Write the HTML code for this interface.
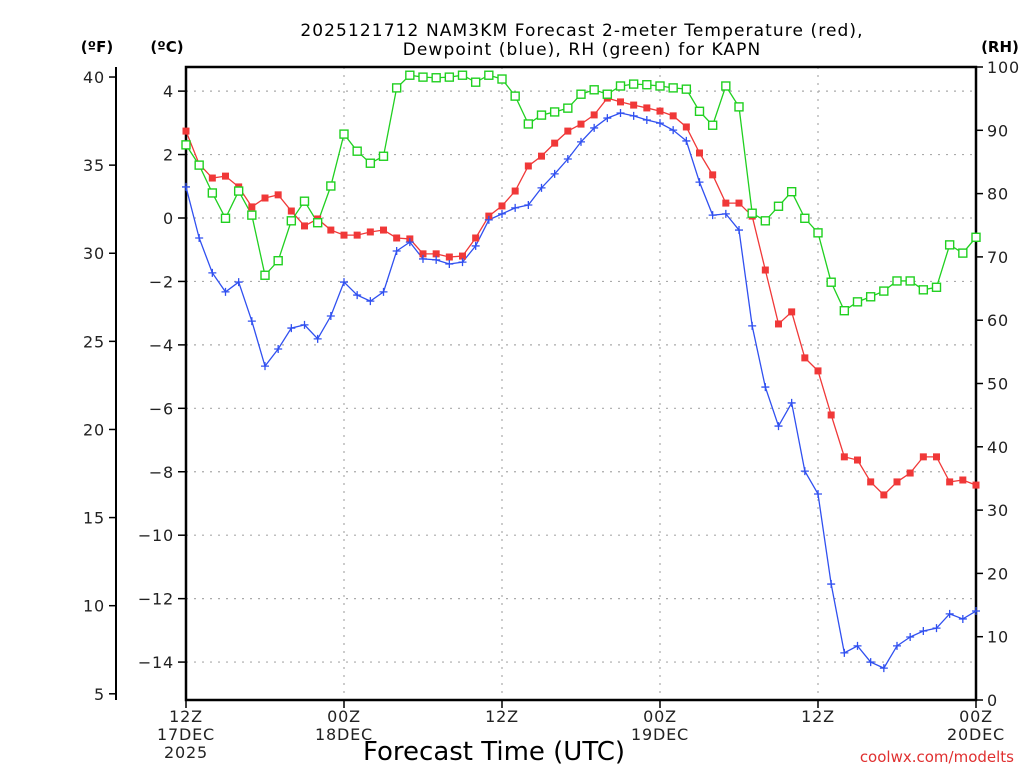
<!DOCTYPE html>
<html><head><meta charset="utf-8"><style>
html,body{margin:0;padding:0;background:#fff;}
svg{display:block;font-family:"DejaVu Sans","Liberation Sans",sans-serif;}
</style></head><body>
<svg id="chart" width="1024" height="768" viewBox="0 0 1024 768" xmlns="http://www.w3.org/2000/svg">
<g id="grid"></g>
<g id="axes"></g>
<g id="series"></g>
<text x="582" y="36" font-size="17" letter-spacing="1.1" text-anchor="middle" fill="#000">2025121712 NAM3KM Forecast 2-meter Temperature (red),</text>
<text x="582" y="55" font-size="17" letter-spacing="1.1" text-anchor="middle" fill="#000">Dewpoint (blue), RH (green) for KAPN</text>
<text x="97" y="52" font-size="15" font-weight="bold" text-anchor="middle">(ºF)</text>
<text x="167" y="52" font-size="15" font-weight="bold" text-anchor="middle">(ºC)</text>
<text x="1000" y="52" font-size="15" font-weight="bold" text-anchor="middle">(RH)</text>
<text x="494" y="760" font-size="26" text-anchor="middle" fill="#000">Forecast Time (UTC)</text>
<text x="1014" y="762" font-size="15" text-anchor="end" fill="#e03030">coolwx.com/modelts</text>
</svg>
<script>
const tempC=[2.74,1.70,1.26,1.32,0.98,0.35,0.63,0.73,0.22,-0.25,-0.03,-0.38,-0.54,-0.54,-0.44,-0.38,-0.63,-0.66,-1.13,-1.13,-1.23,-1.20,-0.63,0.06,0.38,0.85,1.64,1.95,2.36,2.74,2.96,3.25,3.78,3.66,3.56,3.47,3.37,3.22,2.87,2.05,1.36,0.47,0.47,0.06,-1.64,-3.34,-2.96,-4.41,-4.82,-6.21,-7.53,-7.63,-8.32,-8.73,-8.32,-8.04,-7.53,-7.53,-8.32,-8.26,-8.42];
const dewC=[0.98,-0.63,-1.73,-2.33,-2.02,-3.25,-4.67,-4.13,-3.47,-3.37,-3.81,-3.09,-2.02,-2.43,-2.62,-2.33,-1.04,-0.76,-1.29,-1.32,-1.45,-1.39,-0.88,-0.06,0.13,0.32,0.41,0.95,1.39,1.86,2.40,2.84,3.15,3.31,3.22,3.09,2.99,2.77,2.43,1.13,0.09,0.13,-0.38,-3.40,-5.33,-6.56,-5.83,-7.98,-8.70,-11.54,-13.71,-13.49,-14.0,-14.19,-13.49,-13.21,-13.02,-12.93,-12.48,-12.64,-12.39];
const rh=[87.7,84.5,80.1,76.1,80.4,76.6,67.1,69.4,75.7,78.8,75.4,81.2,89.4,86.7,84.8,85.9,96.7,98.7,98.4,98.3,98.4,98.7,97.6,98.7,98.1,95.4,91.0,92.4,92.9,93.5,95.7,96.4,95.7,97.0,97.3,97.2,97.0,96.7,96.5,93.0,90.8,97.0,93.7,76.9,75.7,78.0,80.3,76.1,73.8,66.0,61.5,62.9,63.7,64.6,66.2,66.2,64.8,65.2,71.9,70.6,73.1];
const celsiusTicks=[4,2,0,-2,-4,-6,-8,-10,-12,-14];
const fahrTicks=[40,35,30,25,20,15,10,5];
const rhTicks=[100,90,80,70,60,50,40,30,20,10,0];
const timeTicks=[0,12,24,36,48,60];
const timeLabels=[["12Z","17DEC","2025"],["00Z","18DEC"],["12Z"],["00Z","19DEC"],["12Z"],["00Z","20DEC"]];

const NS="http://www.w3.org/2000/svg";
const L=186,R=976,T=67,B=700;
const xS=h=>L+(R-L)*h/60;
const yC=c=>218-c*31.72;
const yF=f=>yC((f-32)*5/9);
const yRH=r=>B-(B-T)*r/100;
function mk(tag,attrs,parent){const e=document.createElementNS(NS,tag);for(const k in attrs)e.setAttribute(k,attrs[k]);parent.appendChild(e);return e;}
const grid=document.getElementById('grid'),axes=document.getElementById('axes'),series=document.getElementById('series');

celsiusTicks.forEach(c=>{
  const l=mk('line',{x1:L,x2:R,y1:yC(c),y2:yC(c),stroke:'#aaa','stroke-dasharray':'2,6','stroke-width':1.2},grid);
  
  
  const t=mk('line',{x1:L-8,x2:L,y1:yC(c),y2:yC(c),stroke:'#000','stroke-width':1.5},axes);
  
  
  const tx=mk('text',{x:L-12,y:yC(c)+6,'font-size':16,'letter-spacing':0.8,'text-anchor':'end',fill:'#222'},axes);
  tx.textContent=c<0?'\u2212'+(-c):String(c);
  
  
});
timeTicks.forEach((h,i)=>{
  if(i>0&&i<timeTicks.length-1){
    const g=mk('line',{x1:xS(h),x2:xS(h),y1:T,y2:B,stroke:'#aaa','stroke-dasharray':'2,6','stroke-width':1.2},grid);
    
    
  }
  const t=mk('line',{x1:xS(h),x2:xS(h),y1:B,y2:B+8,stroke:'#000','stroke-width':1.5},axes);
  
  
  timeLabels[i].forEach((s,j)=>{
    const tx=mk('text',{x:xS(h),y:B+22+j*18,'font-size':16,'letter-spacing':0.8,'text-anchor':'middle',fill:'#222'},axes);
    tx.textContent=s;
    
    
  });
});
const fAxis=mk('line',{x1:116,x2:116,y1:67,y2:700,stroke:'#000','stroke-width':2},axes);


fahrTicks.forEach(f=>{
  const t=mk('line',{x1:109,x2:116,y1:yF(f),y2:yF(f),stroke:'#000','stroke-width':1.5},axes);
  
  
  const tx=mk('text',{x:105,y:yF(f)+6,'font-size':16,'letter-spacing':0.8,'text-anchor':'end',fill:'#222'},axes);
  tx.textContent=f;
  
  
});
rhTicks.forEach(r=>{
  const t=mk('line',{x1:R,x2:R+7,y1:yRH(r),y2:yRH(r),stroke:'#000','stroke-width':1.5},axes);
  
  
  const tx=mk('text',{x:R+11,y:yRH(r)+6,'font-size':16,'letter-spacing':0.8,'text-anchor':'start',fill:'#222'},axes);
  tx.textContent=r;
  
  
});
const frame=mk('rect',{x:L,y:T,width:R-L,height:B-T,fill:'none',stroke:'#000','stroke-width':2.5},axes);



function line(vals,fy,color,name){
  const p=mk('polyline',{points:vals.map((v,i)=>xS(i)+','+fy(v)).join(' '),fill:'none',stroke:color,'stroke-width':1.3},series);
  
  
}
line(tempC,yC,'#f03838','temperature-line');
line(dewC,yC,'#3050f0','dewpoint-line');
line(rh,yRH,'#20d020','rh-line');
tempC.forEach((v,i)=>{
  const m=mk('rect',{x:xS(i)-3.5,y:yC(v)-3.5,width:7,height:7,fill:'#f03838'},series);
  
  
});
dewC.forEach((v,i)=>{
  const m=mk('path',{d:`M${xS(i)-4},${yC(v)}h8M${xS(i)},${yC(v)-4}v8`,stroke:'#3050f0','stroke-width':1.3,fill:'none'},series);
  
  
});
rh.forEach((v,i)=>{
  const m=mk('rect',{x:xS(i)-4,y:yRH(v)-4,width:8,height:8,fill:'#fff',stroke:'#20d020','stroke-width':1.4},series);
  
  
});
</script>
</body></html>
